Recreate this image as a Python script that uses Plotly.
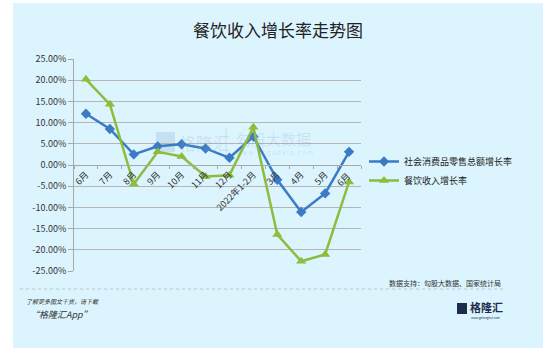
import plotly.graph_objects as go

categories = ["6月", "7月", "8月", "9月", "10月", "11月", "12月", "2022年1-2月", "3月", "4月", "5月", "6月 "]
retail_growth = [12.1, 8.5, 2.5, 4.4, 4.9, 3.9, 1.7, 6.7, -3.5, -11.1, -6.7, 3.1]
catering_growth = [20.2, 14.3, -4.5, 3.1, 2.0, -2.7, -2.4, 8.9, -16.4, -22.7, -21.1, -4.0]
y_ticks = [25, 20, 15, 10, 5, 0, -5, -10, -15, -20, -25]
y_ticktext = [f"{v:.2f}%" for v in y_ticks]

W, H = 556, 362
L, R, T, B = 74, 361, 59, 271
FONT = "Noto Sans CJK SC"

def px(x):
    return (x - L) / (R - L)

def py(y):
    return (B - y) / (B - T)

fig = go.Figure()
fig.add_trace(go.Scatter(
    x=categories, y=retail_growth, mode="lines+markers", name="社会消费品零售总额增长率",
    line=dict(color="#3b7bc6", width=2.5),
    marker=dict(symbol="diamond", size=8, color="#3b7bc6"),
))
fig.add_trace(go.Scatter(
    x=categories, y=catering_growth, mode="lines+markers", name="餐饮收入增长率",
    line=dict(color="#8dbd3c", width=2.5),
    marker=dict(symbol="triangle-up", size=9, color="#8dbd3c"),
))

wm = "rgba(120,160,200,0.22)"
shapes = [
    dict(type="rect", xref="paper", yref="paper", x0=px(13), x1=px(543), y0=py(348), y1=py(3),
         fillcolor="#dcf4fd", line=dict(width=0), layer="below"),
    dict(type="line", xref="paper", yref="paper", x0=px(20), x1=px(505), y0=py(289), y1=py(289),
         line=dict(color="#b9c6cc", width=1, dash="dot")),
    dict(type="rect", xref="paper", yref="paper", x0=px(457), x1=px(467), y0=py(314), y1=py(303),
         fillcolor="#1f2b4d", line=dict(width=0)),
    dict(type="rect", xref="paper", yref="paper", x0=px(156), x1=px(175), y0=py(152), y1=py(132),
         fillcolor=wm, line=dict(width=0), layer="below"),
    dict(type="line", xref="paper", yref="paper", x0=px(226), x1=px(226), y0=py(155), y1=py(128),
         line=dict(color=wm, width=1), layer="below"),
]

annotations = [
    dict(text="餐饮收入增长率走势图", x=px(278), y=py(30), xref="paper", yref="paper",
         showarrow=False, font=dict(size=17, color="#222222", family=FONT), xanchor="center", yanchor="middle"),
    dict(text="格隆汇", x=px(177), y=py(142), xref="paper", yref="paper", showarrow=False,
         font=dict(size=17, color=wm, family=FONT), xanchor="left", yanchor="middle"),
    dict(text="勾股大数据", x=px(234), y=py(138), xref="paper", yref="paper", showarrow=False,
         font=dict(size=15, color=wm, family=FONT), xanchor="left", yanchor="middle"),
    dict(text="w w w . g o g u d a t a . c o m", x=px(234), y=py(152), xref="paper", yref="paper", showarrow=False,
         font=dict(size=6, color=wm, family=FONT), xanchor="left", yanchor="middle"),
    dict(text="数据支持：勾股大数据、国家统计局", x=px(503), y=py(283), xref="paper", yref="paper", showarrow=False,
         font=dict(size=7, color="#333333", family=FONT), xanchor="right", yanchor="middle"),
    dict(text="<i>了解更多图文干货，请下载</i>", x=px(24), y=py(301), xref="paper", yref="paper", showarrow=False,
         font=dict(size=6, color="#333333", family=FONT), xanchor="left", yanchor="middle"),
    dict(text="<i>“格隆汇App”</i>", x=px(28), y=py(314), xref="paper", yref="paper", showarrow=False,
         font=dict(size=9, color="#333333", family=FONT), xanchor="left", yanchor="middle"),
    dict(text="<b>格隆汇</b>", x=px(468), y=py(307), xref="paper", yref="paper", showarrow=False,
         font=dict(size=11, color="#1f2b4d", family=FONT), xanchor="left", yanchor="middle"),
    dict(text="www.gelonghui.com", x=px(469), y=py(318), xref="paper", yref="paper", showarrow=False,
         font=dict(size=3, color="#1f2b4d", family=FONT), xanchor="left", yanchor="middle"),
]

fig.update_layout(
    width=W, height=H,
    margin=dict(l=L, r=W - R, t=T, b=H - B, pad=0),
    paper_bgcolor="white", plot_bgcolor="rgba(0,0,0,0)",
    font=dict(family=FONT, color="#333333", size=9),
    showlegend=True,
    legend=dict(x=px(364), y=py(147), xanchor="left", yanchor="top", xref="paper", yref="paper",
                bgcolor="rgba(0,0,0,0)", font=dict(size=9, color="#222222", family=FONT),
                tracegroupgap=2, itemwidth=30),
    shapes=shapes, annotations=annotations,
    xaxis=dict(
        type="category", anchor="free", position=0.5, showgrid=False,
        showline=True, linecolor="#a8a8a8", linewidth=1,
        ticks="outside", tickson="boundaries", ticklen=3, tickcolor="#a8a8a8",
        tickangle=-45, tickfont=dict(size=9, color="#333333", family=FONT),
        range=[-0.5, 11.5], zeroline=False,
    ),
    yaxis=dict(
        range=[-25, 25], tickvals=y_ticks, ticktext=y_ticktext,
        showgrid=True, gridcolor="#b5b5b5", gridwidth=1, zeroline=False,
        showline=True, linecolor="#a8a8a8", linewidth=1,
        ticks="outside", ticklen=5, tickcolor="#a8a8a8",
        tickfont=dict(size=9, color="#333333", family=FONT),
    ),
)

fig.write_html("out.html", config={"displayModeBar": False},
               post_script="document.body.style.margin='0';")
